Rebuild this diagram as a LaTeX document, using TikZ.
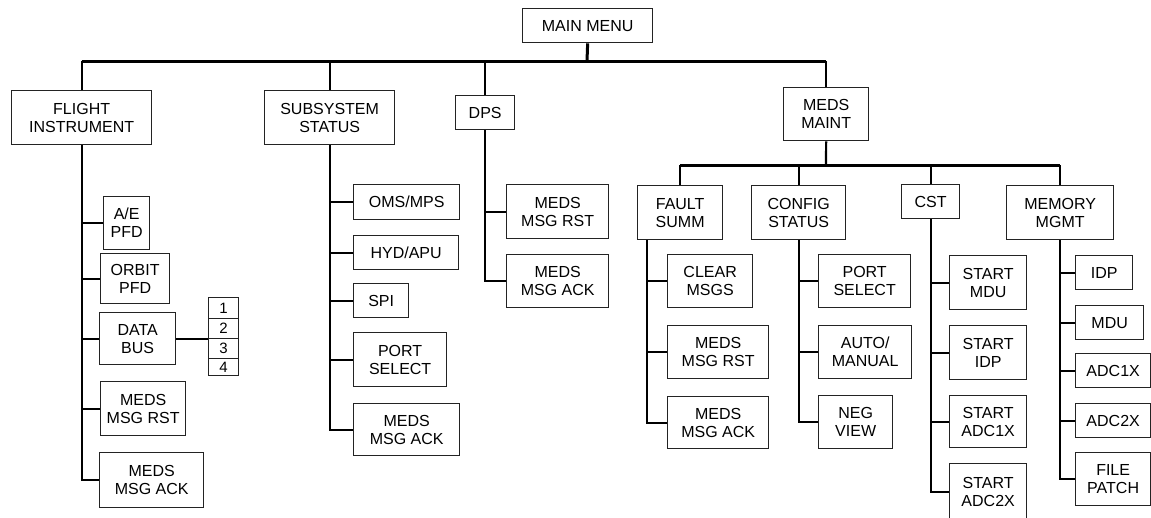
\documentclass[tikz,border=0pt]{standalone}
\usepackage{fontspec}
\setmainfont{Liberation Sans}
\usepackage{xcolor}
\definecolor{boxColor}{RGB}{35, 35, 35}
\usetikzlibrary{calc}

\begin{document}
\begin{tikzpicture}[x=1pt, y=-1pt,
    menubox/.style={draw=boxColor, line width=1.3pt, align=center, anchor=north west,
        inner sep=0pt, font=\fontsize{16}{18}\selectfont},
    boxsize/.style 2 args={minimum width=#1pt, minimum height=#2pt},
    numcell/.style={draw=boxColor, line width=1.2pt, anchor=north west, inner sep=0pt,
        minimum width=30pt, font=\fontsize{15}{17}\selectfont},
    link/.style={line width=2.2pt},
    bus/.style={line width=3pt}]
    \useasboundingbox (0,0) rectangle (1151,517);

    \node[menubox, boxsize={130}{34}] (main) at (522,8) {MAIN MENU};
    \node[menubox, boxsize={140}{54}] (fi) at (11,90) {FLIGHT\\INSTRUMENT};
    \node[menubox, boxsize={130}{54}] (ss) at (264,90) {SUBSYSTEM\\STATUS};
    \node[menubox, boxsize={59}{34}] (dps) at (455,95) {DPS};
    \node[menubox, boxsize={85}{53}] (mm) at (783,87) {MEDS\\MAINT};

    \node[menubox, boxsize={85}{54}] (fs) at (637,185) {FAULT\\SUMM};
    \node[menubox, boxsize={94}{54}] (cs) at (751,185) {CONFIG\\STATUS};
    \node[menubox, boxsize={58}{34}] (cst) at (901,184) {CST};
    \node[menubox, boxsize={107}{54}] (mem) at (1006,185) {MEMORY\\MGMT};

    \node[menubox, boxsize={46}{53}] (ae) at (103,196) {A/E\\PFD};
    \node[menubox, boxsize={69}{50}] (orb) at (100,253) {ORBIT\\PFD};
    \node[menubox, boxsize={76}{52}] (db) at (99,312) {DATA\\BUS};
    \node[menubox, boxsize={85}{54}] (rst1) at (100,381) {MEDS\\MSG RST};
    \node[menubox, boxsize={104}{55}] (ack1) at (99,452) {MEDS\\MSG ACK};

    \node[numcell, minimum height=21pt] (n1) at (208,297) {1};
    \node[numcell, minimum height=20pt] (n2) at (208,318) {2};
    \node[numcell, minimum height=20pt] (n3) at (208,338) {3};
    \node[numcell, minimum height=17pt] (n4) at (208,358) {4};

    \node[menubox, boxsize={106}{35}] (oms) at (353,184) {OMS/MPS};
    \node[menubox, boxsize={105}{34}] (hyd) at (353,235) {HYD/APU};
    \node[menubox, boxsize={55}{34}] (spi) at (353,283) {SPI};
    \node[menubox, boxsize={93}{54}] (port1) at (353,332) {PORT\\SELECT};
    \node[menubox, boxsize={106}{52}] (ack2) at (353,403) {MEDS\\MSG ACK};

    \node[menubox, boxsize={102}{54}] (rst2) at (506,184) {MEDS\\MSG RST};
    \node[menubox, boxsize={102}{53}] (ack3) at (506,254) {MEDS\\MSG ACK};

    \node[menubox, boxsize={85}{53}] (clr) at (667,254) {CLEAR\\MSGS};
    \node[menubox, boxsize={101}{53}] (rst3) at (667,325) {MEDS\\MSG RST};
    \node[menubox, boxsize={101}{52}] (ack4) at (667,396) {MEDS\\MSG ACK};

    \node[menubox, boxsize={92}{53}] (port2) at (818,254) {PORT\\SELECT};
    \node[menubox, boxsize={93}{53}] (auto) at (818,325) {AUTO/\\MANUAL};
    \node[menubox, boxsize={74}{53}] (neg) at (818,395) {NEG\\VIEW};

    \node[menubox, boxsize={77}{54}] (smdu) at (949,255) {START\\MDU};
    \node[menubox, boxsize={77}{54}] (sidp) at (949,325) {START\\IDP};
    \node[menubox, boxsize={77}{52}] (sadc1) at (949,395) {START\\ADC1X};
    \node[menubox, boxsize={77}{56}] (sadc2) at (949,463) {START\\ADC2X};

    \node[menubox, boxsize={57}{34}] (idp) at (1075,255) {IDP};
    \node[menubox, boxsize={68}{34}] (mdu) at (1075,305) {MDU};
    \node[menubox, boxsize={75}{34}] (adc1) at (1075,353) {ADC1X};
    \node[menubox, boxsize={75}{34}] (adc2) at (1075,403) {ADC2X};
    \node[menubox, boxsize={75}{53}] (fp) at (1075,452) {FILE\\PATCH};

    \coordinate (mbus) at (587,61);
    \coordinate (sbus) at (826,165);
    \coordinate (fsx) at ([xshift=10pt]fs.south west);
    \draw[bus] (main.south) -- (mbus);
    \draw[bus] (fi.north |- mbus) -- (mm.north |- mbus);
    \foreach \b in {fi, ss, dps, mm}
        \draw[link] (\b.north) -- (\b.north |- mbus);
    \draw[link] (mm.south) -- (sbus);
    \draw[bus] (fs.north |- sbus) -- (mem.north |- sbus);
    \foreach \b in {fs, cs, cst, mem}
        \draw[link] (\b.north) -- (\b.north |- sbus);

    \draw[link] (fi.south) |- (ack1.west);
    \foreach \c in {ae, orb, db, rst1}
        \draw[link] (\c.west) -- (\c.west -| fi.south);
    \draw[link] (db.east) -- (db.east -| n3.west);

    \draw[link] (ss.south) |- (ack2.west);
    \foreach \c in {oms, hyd, spi, port1}
        \draw[link] (\c.west) -- (\c.west -| ss.south);

    \draw[link] (dps.south) |- (ack3.west);
    \draw[link] (rst2.west) -- (rst2.west -| dps.south);

    \draw[link] (fsx) |- (ack4.west);
    \foreach \c in {clr, rst3}
        \draw[link] (\c.west) -- (\c.west -| fsx);

    \draw[link] (cs.south) |- (neg.west);
    \foreach \c in {port2, auto}
        \draw[link] (\c.west) -- (\c.west -| cs.south);

    \draw[link] (cst.south) |- (sadc2.west);
    \foreach \c in {smdu, sidp, sadc1}
        \draw[link] (\c.west) -- (\c.west -| cst.south);

    \draw[link] (mem.south) |- (fp.west);
    \foreach \c in {idp, mdu, adc1, adc2}
        \draw[link] (\c.west) -- (\c.west -| mem.south);
\end{tikzpicture}
\end{document}
